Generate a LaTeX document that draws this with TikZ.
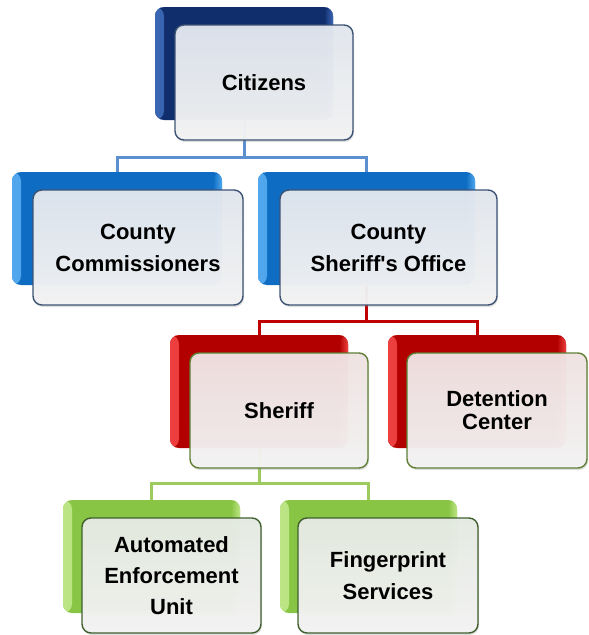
\documentclass[tikz,border=0pt]{standalone}
\usepackage{fontspec}
\setmainfont{Liberation Sans}
\usetikzlibrary{shadows}

\definecolor{navyBack}{HTML}{102D6C}
\definecolor{navyEdge}{HTML}{3A66B4}
\definecolor{blueBack}{HTML}{0E6DC2}
\definecolor{blueEdge}{HTML}{52A8EE}
\definecolor{redBack}{HTML}{B20000}
\definecolor{redEdge}{HTML}{EE4040}
\definecolor{greenBack}{HTML}{88C545}
\definecolor{greenEdge}{HTML}{BDE585}
\definecolor{blueLine}{HTML}{5B8FD0}
\definecolor{redLine}{HTML}{C00000}
\definecolor{greenLine}{HTML}{9DCB5E}
\definecolor{blueFrame}{HTML}{3D5374}
\definecolor{redFrame}{HTML}{5F7F35}
\definecolor{greenFrame}{HTML}{3F5F2F}
\definecolor{blueTop}{HTML}{E2E7EF}
\definecolor{redTop}{HTML}{F1E3E3}
\definecolor{greenTop}{HTML}{E6EBE3}
\definecolor{paleBottom}{HTML}{F4F4F4}

\newcommand{\BOXFONT}{\bfseries\fontsize{22}{32}\selectfont}

\begin{document}
\begin{tikzpicture}[x=1pt, y=-1pt,
		backbox/.style={rounded corners=9pt, inner sep=0pt, minimum height=113pt,
			fill=#1Back,
			path picture={
				\shade[left color=#1Edge, right color=#1Back]
					(path picture bounding box.north west) rectangle ([xshift=9pt]path picture bounding box.south west);
				\shade[left color=#1Back, right color=#1Edge]
					([xshift=-9pt]path picture bounding box.north east) rectangle (path picture bounding box.south east);
			}},
		frontbox/.style={rounded corners=9pt, inner sep=0pt, minimum height=115pt,
			draw=#1Frame, line width=1.4pt, align=center, font=\BOXFONT,
			fill opacity=0.96, text opacity=1,
			drop shadow={opacity=0.25, shadow xshift=1pt, shadow yshift=-2pt}},
		bluefront/.style={frontbox=blue, top color=blueTop, bottom color=paleBottom},
		redfront/.style={frontbox=red, top color=redTop, bottom color=paleBottom},
		greenfront/.style={frontbox=green, top color=greenTop, bottom color=paleBottom},
		link/.style={line width=3pt}]
		\useasboundingbox (0, 0) rectangle (589, 635);

		% back boxes
		\node[backbox=navy, minimum width=178pt] (citB) at (244, 63.5) {};
		\node[backbox=blue, minimum width=210pt] (comB) at (117, 228.5) {};
		\node[backbox=blue, minimum width=217pt] (sofB) at (366.5, 228.5) {};
		\node[backbox=red, minimum width=178pt] (shB) at (259, 391.5) {};
		\node[backbox=red, minimum width=178pt] (detB) at (477, 391.5) {};
		\node[backbox=green, minimum width=177pt] (autB) at (151.5, 556.5) {};
		\node[backbox=green, minimum width=177pt] (finB) at (368.5, 556.5) {};

		% connectors
		\draw[link, blueLine] (citB.south) -- ++(0, 37) -| (comB.north);
		\draw[link, blueLine] (citB.south) -- ++(0, 37) -| (sofB.north);
		\draw[link, redLine] (sofB.south) -- ++(0, 36) -| (shB.north);
		\draw[link, redLine] (sofB.south) -- ++(0, 36) -| (detB.north);
		\draw[link, greenLine] (shB.south) -- ++(0, 35) -| (autB.north);
		\draw[link, greenLine] (shB.south) -- ++(0, 35) -| (finB.north);

		% front boxes
		\node[bluefront, minimum width=178pt] (cit) at (264, 82.5) {Citizens};
		\node[bluefront, minimum width=210pt] (com) at (138, 247.5) {County\\Commissioners};
		\node[bluefront, minimum width=217pt] (sof) at (388.5, 247.5) {County\\Sheriff\textquotesingle s Office};
		\node[redfront, minimum width=178pt] (sh) at (279, 410.5) {Sheriff};
		\node[redfront, minimum width=180pt, font=\bfseries\fontsize{22}{23}\selectfont] (det) at (497, 410.5) {Detention\\Center};
		\node[greenfront, minimum width=179pt, font=\bfseries\fontsize{22}{31}\selectfont] (aut) at (171.5, 575.5) {Automated\\Enforcement\\Unit};
		\node[greenfront, minimum width=180pt] (fin) at (388, 575.5) {Fingerprint\\Services};
	\end{tikzpicture}
\end{document}
